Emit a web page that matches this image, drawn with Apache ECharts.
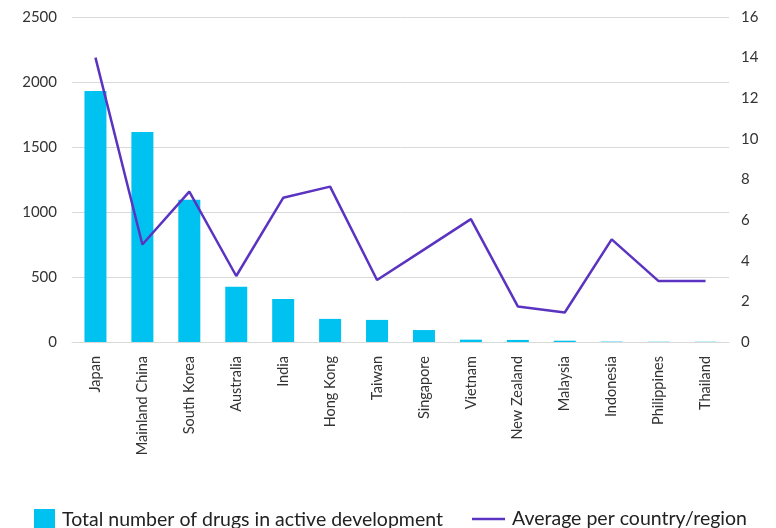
<!DOCTYPE html>
<html>
<head>
<meta charset="utf-8">
<script src="https://cdn.jsdelivr.net/npm/echarts@6/dist/echarts.min.js"></script>
<style>
  html, body { margin: 0; padding: 0; background: #fff; }
  #chart { width: 776px; height: 528px; }
</style>
</head>
<body>
<div id="chart"></div>
<script>
// Markets, ordered by pipeline size
const categories = ['Japan', 'Mainland China', 'South Korea', 'Australia', 'India', 'Hong Kong',
  'Taiwan', 'Singapore', 'Vietnam', 'New Zealand', 'Malaysia', 'Indonesia', 'Philippines', 'Thailand'];

// Total number of drugs in active development (left axis)
const totalDrugs = [1930, 1615, 1095, 425, 330, 178, 170, 92, 18, 16, 10, 3, 2, 2];

// Average per country/region (right axis)
const averagePerMarket = [14.0, 4.8, 7.4, 3.25, 7.1, 7.65, 3.05, 4.55, 6.05, 1.75, 1.45, 5.05, 3.0, 3.0];

const leftTicks = { min: 0, max: 2500, interval: 500 };
const rightTicks = { min: 0, max: 16, interval: 2 };

const barName = 'Total number of drugs in active development';
const lineName = 'Average per country/region';

const FONT = 'Lato, "Noto Sans", sans-serif';
const TEXT = '#333333';

const chart = echarts.init(document.getElementById('chart'), null, { renderer: 'canvas' });

chart.setOption({
  animation: false,
  backgroundColor: '#ffffff',
  grid: { left: 72, right: 47, top: 17, bottom: 186, containLabel: false },
  legend: [
    {
      data: [{ name: barName, icon: 'rect' }],
      left: 29, top: 504,
      itemWidth: 21, itemHeight: 22,
      textStyle: { fontFamily: FONT, fontSize: 19.5, color: '#222', padding: [0, 0, 0, 2] }
    },
    {
      data: [{ name: lineName, icon: 'rect' }],
      left: 467, top: 504,
      itemWidth: 33, itemHeight: 2.5,
      textStyle: { fontFamily: FONT, fontSize: 19.5, color: '#222', padding: [0, 0, 0, 2] }
    }
  ],
  xAxis: {
    type: 'category',
    data: categories,
    axisLine: { show: true, lineStyle: { color: '#d9d9d9', width: 1 } },
    axisTick: { show: false },
    axisLabel: {
      rotate: 90, margin: 14, interval: 0,
      fontFamily: FONT, fontSize: 14.5, color: TEXT
    }
  },
  yAxis: [
    {
      type: 'value',
      min: leftTicks.min, max: leftTicks.max, interval: leftTicks.interval,
      axisLine: { show: false }, axisTick: { show: false },
      splitLine: { show: true, lineStyle: { color: '#d9d9d9', width: 1 } },
      axisLabel: {
        margin: 15, fontFamily: FONT, fontSize: 15, color: TEXT,
        formatter: (v) => String(v)
      }
    },
    {
      type: 'value',
      min: rightTicks.min, max: rightTicks.max, interval: rightTicks.interval,
      axisLine: { show: false }, axisTick: { show: false },
      splitLine: { show: false },
      axisLabel: { margin: 12, fontFamily: FONT, fontSize: 15, color: TEXT }
    }
  ],
  series: [
    {
      name: barName,
      type: 'bar',
      yAxisIndex: 0,
      data: totalDrugs,
      barWidth: 22,
      itemStyle: { color: '#00C2F0' }
    },
    {
      name: lineName,
      type: 'line',
      yAxisIndex: 1,
      data: averagePerMarket,
      symbol: 'none',
      lineStyle: { color: '#5B33C1', width: 2.5 },
      itemStyle: { color: '#5B33C1' }
    }
  ]
});
</script>
</body>
</html>
